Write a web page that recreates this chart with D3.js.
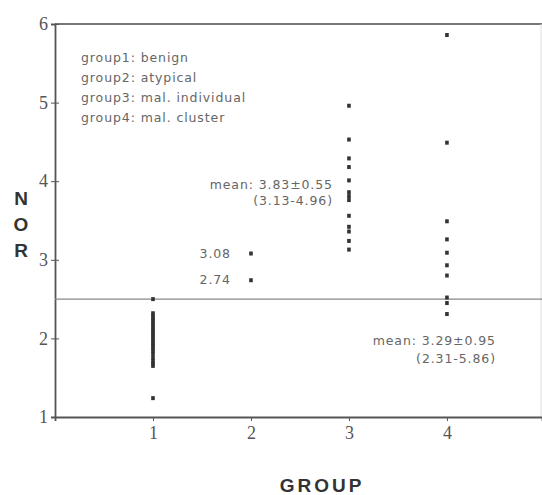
<!DOCTYPE html>
<html>
<head>
<meta charset="utf-8">
<script src="https://cdn.jsdelivr.net/npm/d3@7"></script>
<style>
  body { margin: 0; background: #fff; }
</style>
</head>
<body>
<div id="chart"></div>
<script>
// values
const groups = [1, 2, 3, 4];
const group1 = [2.50, 2.32, 2.29, 2.26, 2.23, 2.20, 2.17, 2.14, 2.11, 2.08, 2.05, 2.02, 1.99, 1.96, 1.93, 1.90, 1.87, 1.84, 1.80, 1.75, 1.71, 1.68, 1.65, 1.24];
const group2 = [3.08, 2.74];
const group3 = [4.96, 4.53, 4.29, 4.18, 4.01, 3.86, 3.81, 3.76, 3.56, 3.42, 3.36, 3.24, 3.13];
const group4 = [5.86, 4.49, 3.49, 3.26, 3.09, 2.93, 2.80, 2.52, 2.45, 2.31];
const legendLines = ["group1: benign", "group2: atypical", "group3: mal. individual", "group4: mal. cluster"];
const cutoff = 2.5;
const yTicks = [1, 2, 3, 4, 5, 6];

const width = 542, height = 495;
const margin = { top: 24, right: 0, bottom: 78, left: 55 };

const x = d3.scaleLinear().domain([0, 4.97]).range([margin.left, width]);
const y = d3.scaleLinear().domain([1, 6]).range([height - margin.bottom, margin.top]);

const svg = d3.select("#chart").append("svg")
  .attr("width", width)
  .attr("height", height)
  .style("font-family", "DejaVu Sans, Arial, sans-serif");

const axisColor = "#555";

// frame: top and right
svg.append("line")
  .attr("x1", x(0)).attr("x2", width)
  .attr("y1", y(6)).attr("y2", y(6))
  .attr("stroke", "#777").attr("stroke-width", 2);
svg.append("line")
  .attr("x1", width - 1).attr("x2", width - 1)
  .attr("y1", y(6)).attr("y2", y(1))
  .attr("stroke", "#ddd").attr("stroke-width", 1);

// y axis
const yAxis = svg.append("g")
  .attr("transform", `translate(${x(0)},0)`)
  .call(d3.axisLeft(y).tickValues(yTicks).tickSize(4).tickPadding(3).tickFormat(d3.format("d")));
yAxis.select(".domain").attr("stroke", axisColor).attr("stroke-width", 1.8);
yAxis.selectAll(".tick line").attr("stroke", axisColor).attr("x2", 4).attr("x1", -4);
yAxis.selectAll(".tick text")
  .attr("fill", "#555")
  .style("font-family", "Liberation Serif, Times New Roman, serif")
  .style("font-size", "18px");

// x axis
const xAxis = svg.append("g")
  .attr("transform", `translate(0,${y(1)})`)
  .call(d3.axisBottom(x).tickValues(groups).tickSize(4).tickPadding(5).tickFormat(d3.format("d")));
xAxis.select(".domain").attr("stroke", axisColor).attr("stroke-width", 1.8);
xAxis.selectAll(".tick line").attr("stroke", axisColor);
xAxis.selectAll(".tick text")
  .attr("fill", "#555")
  .style("font-family", "Liberation Serif, Times New Roman, serif")
  .style("font-size", "18px");

// cutoff line
svg.append("line")
  .attr("x1", x(0)).attr("x2", width)
  .attr("y1", y(cutoff)).attr("y2", y(cutoff))
  .attr("stroke", "#888").attr("stroke-width", 1.2);

// points
const series = [group1, group2, group3, group4];
series.forEach((vals, i) => {
  svg.append("g")
    .selectAll("rect")
    .data(vals)
    .join("rect")
    .attr("x", x(groups[i]) - 1.8)
    .attr("y", d => y(d) - 2)
    .attr("width", 3.6)
    .attr("height", 4)
    .attr("fill", "#333");
});

// legend text
svg.append("g")
  .selectAll("text")
  .data(legendLines)
  .join("text")
  .attr("x", 81)
  .attr("y", (d, i) => 62 + i * 20)
  .attr("fill", "#666")
  .style("font-size", "12.5px")
  .style("letter-spacing", "0.9px")
  .text(d => d);

// annotations
const note = (tx, ty, txt) => svg.append("text")
  .attr("x", tx).attr("y", ty)
  .attr("text-anchor", "end")
  .attr("fill", "#666")
  .style("font-size", "12.5px")
  .style("letter-spacing", "0.9px")
  .text(txt);

note(x(3) - 16, y(3.90), "mean: 3.83\u00b10.55");
note(x(3) - 16, y(3.70), "(3.13-4.96)");
note(x(2) - 20, y(3.08) + 4, "3.08");
note(x(2) - 20, y(2.74) + 4, "2.74");
note(x(4) + 49, y(1.92), "mean: 3.29\u00b10.95");
note(x(4) + 49, y(1.69), "(2.31-5.86)");

// axis titles
svg.append("g")
  .selectAll("text")
  .data(["N", "O", "R"])
  .join("text")
  .attr("x", 21)
  .attr("y", (d, i) => 205 + i * 26)
  .attr("text-anchor", "middle")
  .attr("fill", "#333")
  .style("font-family", "Liberation Sans, Arial, sans-serif")
  .style("font-size", "19px")
  .style("font-weight", "bold")
  .text(d => d);

svg.append("text")
  .attr("x", 322)
  .attr("y", 492)
  .attr("text-anchor", "middle")
  .attr("fill", "#333")
  .style("font-family", "Liberation Sans, Arial, sans-serif")
  .style("font-size", "19px")
  .style("font-weight", "bold")
  .style("letter-spacing", "3px")
  .text("GROUP");
</script>
</body>
</html>
